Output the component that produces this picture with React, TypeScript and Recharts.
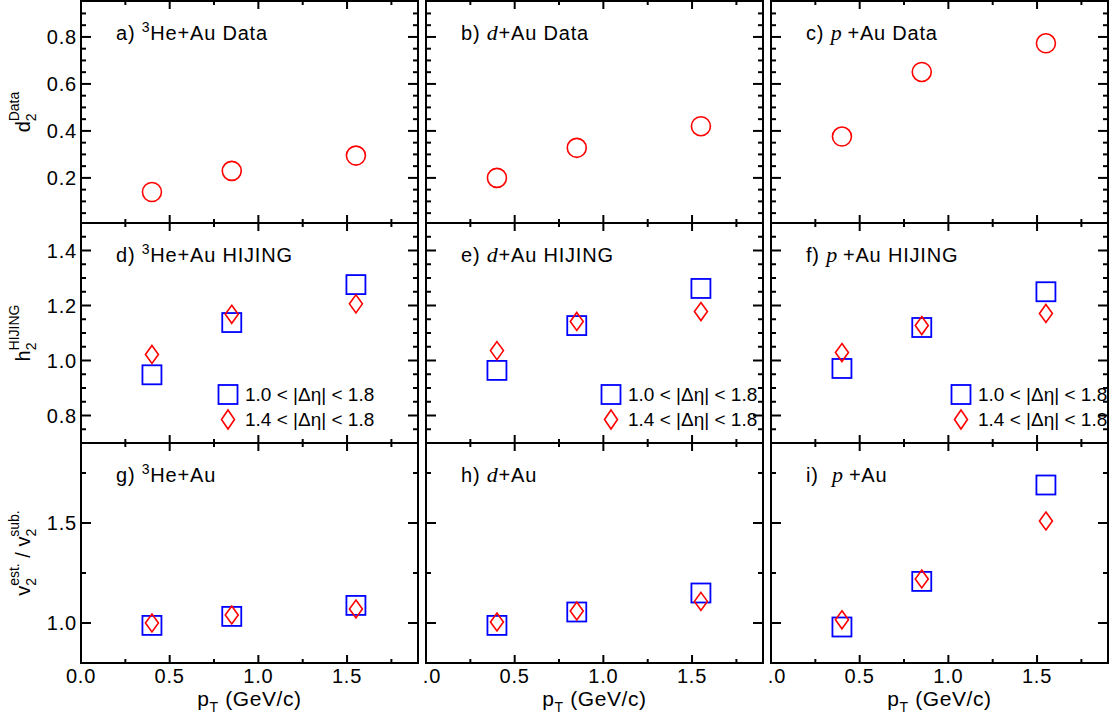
import React from 'react';
import { ScatterChart, Scatter, XAxis, YAxis, Legend, Customized } from 'recharts';

const SANS = '"Liberation Sans", Arial, Helvetica, sans-serif';
const SERIF = '"Liberation Serif", "Times New Roman", serif';
const RED = '#ff0000';
const BLUE = '#0000ff';

// ---------- data ----------
const PT = [0.4, 0.85, 1.55];

const D2_HE = [0.14, 0.23, 0.295];
const D2_D = [0.2, 0.328, 0.42];
const D2_P = [0.376, 0.651, 0.773];

const H2_HE_WIDE = [0.948, 1.138, 1.276];
const H2_HE_NARROW = [1.022, 1.168, 1.206];
const H2_D_WIDE = [0.964, 1.127, 1.262];
const H2_D_NARROW = [1.036, 1.142, 1.178];
const H2_P_WIDE = [0.971, 1.12, 1.25];
const H2_P_NARROW = [1.029, 1.127, 1.171];

const RATIO_HE_WIDE = [0.988, 1.033, 1.088];
const RATIO_HE_NARROW = [1.0, 1.04, 1.07];
const RATIO_D_WIDE = [0.988, 1.055, 1.15];
const RATIO_D_NARROW = [1.005, 1.06, 1.108];
const RATIO_P_WIDE = [0.98, 1.208, 1.69];
const RATIO_P_NARROW = [1.016, 1.22, 1.51];

const NAME_DATA = 'Data';
const NAME_WIDE = '1.0 < |Δη| < 1.8';
const NAME_NARROW = '1.4 < |Δη| < 1.8';

// ---------- axes ----------
const X_DOMAIN = [0, 1.9];
const X_MAJOR = [0, 0.5, 1.0, 1.5];
const X_MINOR = [0.25, 0.75, 1.25, 1.75];

const Y_DOMAIN_DATA = [0.008, 0.953];
const Y_MAJOR_DATA = [0.2, 0.4, 0.6, 0.8];
const Y_MINOR_DATA = [0.05, 0.1, 0.15, 0.25, 0.3, 0.35, 0.45, 0.5, 0.55, 0.65, 0.7, 0.75, 0.85, 0.9];

const Y_DOMAIN_HIJING = [0.7, 1.5];
const Y_MAJOR_HIJING = [0.8, 1.0, 1.2, 1.4];
const Y_MINOR_HIJING = [0.75, 0.85, 0.9, 0.95, 1.05, 1.1, 1.15, 1.25, 1.3, 1.35, 1.45];

const Y_DOMAIN_RATIO = [0.8, 1.9];
const Y_MAJOR_RATIO = [1.0, 1.5];
const Y_MINOR_RATIO = [1.25, 1.75];

// ---------- layout ----------
const PLOT_LEFT = [81, 426, 771];
const PLOT_W = 337;
const CELL_LEFT = [0, 422, 767];
const CELL_RIGHT = [422, 767, 1112];
const PLOT_TOP = [1, 223, 443];
const PLOT_H = [222, 220, 220];
const PAD_TOP = [1, 3, 3];
const PAD_BOTTOM = [3, 3, 58];
const LEGEND_LEFT = [217, 178, 183];
const LEGEND_TOP = 162;

const ROW_Y = [
  { domain: Y_DOMAIN_DATA, major: Y_MAJOR_DATA, minor: Y_MINOR_DATA },
  { domain: Y_DOMAIN_HIJING, major: Y_MAJOR_HIJING, minor: Y_MINOR_HIJING },
  { domain: Y_DOMAIN_RATIO, major: Y_MAJOR_RATIO, minor: Y_MINOR_RATIO },
];

const isIn = (arr: number[], v: number) => arr.some((a) => Math.abs(a - v) < 1e-6);

type Shape = 'circle' | 'square' | 'diamond';
type Series = { name: string; values: number[]; shape: Shape };

const CircleShape = (p: any) => (
  <circle cx={p.cx} cy={p.cy} r={9.5} fill="none" stroke={RED} strokeWidth={1.6} />
);
const SquareShape = (p: any) => (
  <rect x={p.cx - 9.5} y={p.cy - 9.5} width={19} height={19} fill="none" stroke={BLUE} strokeWidth={1.8} />
);
const DiamondShape = (p: any) => (
  <polygon
    points={`${p.cx},${p.cy - 9} ${p.cx + 6.5},${p.cy} ${p.cx},${p.cy + 9} ${p.cx - 6.5},${p.cy}`}
    fill="none"
    stroke={RED}
    strokeWidth={1.6}
  />
);
const SHAPES: Record<Shape, any> = { circle: CircleShape, square: SquareShape, diamond: DiamondShape };

const tickText = { fontFamily: SANS, fontSize: 20, fill: '#000', letterSpacing: 0.8 };

const makeXTick = (side: 'bottom' | 'top', showLabels: boolean) => (props: any) => {
  const { x, y, payload } = props;
  const v = payload.value;
  const major = isIn(X_MAJOR, v);
  const len = major ? 8 : 4;
  const dir = side === 'bottom' ? -1 : 1;
  return (
    <g>
      <line x1={x} x2={x} y1={y} y2={y + dir * len} stroke="#000" strokeWidth={2} />
      {showLabels && major && side === 'bottom' ? (
        <text x={x} y={y + 20} textAnchor="middle" {...tickText}>
          {v.toFixed(1)}
        </text>
      ) : null}
    </g>
  );
};

const makeYTick = (side: 'left' | 'right', major: number[], showLabels: boolean) => (props: any) => {
  const { x, y, payload } = props;
  const v = payload.value;
  const isMajor = isIn(major, v);
  const len = isMajor ? 10 : 5;
  const dir = side === 'left' ? 1 : -1;
  return (
    <g>
      <line x1={x} x2={x + dir * len} y1={y} y2={y} stroke="#000" strokeWidth={2} />
      {showLabels && isMajor && side === 'left' ? (
        <text x={x - 4} y={y} dy="0.36em" textAnchor="end" {...tickText}>
          {v.toFixed(1)}
        </text>
      ) : null}
    </g>
  );
};

const LegendSymbol = ({ shape }: { shape: Shape }) => (
  <svg width={22} height={25} style={{ display: 'block', flex: 'none' }}>
    {shape === 'square' ? (
      <rect x={1.5} y={3} width={19} height={19} fill="none" stroke={BLUE} strokeWidth={1.8} />
    ) : (
      <polygon points="11,3 17.5,12.5 11,22 4.5,12.5" fill="none" stroke={RED} strokeWidth={1.6} />
    )}
  </svg>
);

const renderLegend = (props: any) => {
  const payload = props.payload || [];
  return (
    <div style={{ fontFamily: SANS, fontSize: 19, color: '#000', whiteSpace: 'nowrap' }}>
      {payload.map((entry: any, i: number) => (
        <div key={i} style={{ display: 'flex', alignItems: 'center', height: 25 }}>
          <LegendSymbol shape={entry.value === NAME_WIDE ? 'square' : 'diamond'} />
          <span style={{ marginLeft: 6, lineHeight: '25px' }}>{entry.value}</span>
        </div>
      ))}
    </div>
  );
};

const Sup3 = () => (
  <>
    <tspan fontSize={14} dy={-8}>3</tspan>
    <tspan fontSize={20} dy={8}>He</tspan>
  </>
);
const ItalicD = () => (
  <tspan fontFamily={SERIF} fontStyle="italic" fontSize={22}>d</tspan>
);
const ItalicP = ({ dx = 0 }: { dx?: number }) => (
  <tspan fontFamily={SERIF} fontStyle="italic" fontSize={22} dx={dx}>p</tspan>
);

const PANEL_LABELS: React.ReactNode[][] = [
  [
    <>{'a) '}<Sup3 /><tspan>{'+Au Data'}</tspan></>,
    <>{'b) '}<ItalicD /><tspan>{'+Au Data'}</tspan></>,
    <>{'c) '}<ItalicP /><tspan dx={5}>{'+Au Data'}</tspan></>,
  ],
  [
    <>{'d) '}<Sup3 /><tspan>{'+Au HIJING'}</tspan></>,
    <>{'e) '}<ItalicD /><tspan>{'+Au HIJING'}</tspan></>,
    <>{'f) '}<ItalicP /><tspan dx={5}>{'+Au HIJING'}</tspan></>,
  ],
  [
    <>{'g) '}<Sup3 /><tspan>{'+Au'}</tspan></>,
    <>{'h) '}<ItalicD /><tspan>{'+Au'}</tspan></>,
    <>{'i) '}<ItalicP dx={7} /><tspan dx={5}>{'+Au'}</tspan></>,
  ],
];

const Y_TITLES: React.ReactNode[] = [
  <>
    <tspan>d</tspan>
    <tspan fontSize={14} dy={6}>2</tspan>
    <tspan fontSize={14} dx={-8} dy={-17}>Data</tspan>
  </>,
  <>
    <tspan>h</tspan>
    <tspan fontSize={14} dy={6}>2</tspan>
    <tspan fontSize={14} dx={-8} dy={-17}>HIJING</tspan>
  </>,
  <>
    <tspan>v</tspan>
    <tspan fontSize={14} dy={6}>2</tspan>
    <tspan fontSize={14} dx={-8} dy={-17}>est.</tspan>
    <tspan fontSize={20} dy={11}>{' / v'}</tspan>
    <tspan fontSize={14} dy={6}>2</tspan>
    <tspan fontSize={14} dx={-8} dy={-17}>sub.</tspan>
  </>,
];

const PanelText = ({ row, col, ml, mt }: { row: number; col: number; ml: number; mt: number }) => {
  const ph = PLOT_H[row];
  return (
    <g>
      <text x={ml + 35} y={mt + 39} fontFamily={SANS} fontSize={20} letterSpacing={0.8} fill="#000">
        {PANEL_LABELS[row][col]}
      </text>
      {col === 0 ? (
        <text
          transform={`translate(30, ${mt + ph / 2}) rotate(-90)`}
          textAnchor="middle"
          fontFamily={SANS}
          fontSize={20}
          fill="#000"
        >
          {Y_TITLES[row]}
        </text>
      ) : null}
      {row === 2 ? (
        <text
          x={ml + PLOT_W / 2 + 0}
          y={mt + ph + 43}
          textAnchor="middle"
          fontFamily={SANS}
          fontSize={21}
          letterSpacing={0.6}
          fill="#000"
        >
          p<tspan fontSize={14} dy={6}>T</tspan>
          <tspan fontSize={21} dy={-6}>{' (GeV/c)'}</tspan>
        </text>
      ) : null}
    </g>
  );
};

const PANEL_SERIES: Series[][][] = [
  [
    [{ name: NAME_DATA, values: D2_HE, shape: 'circle' }],
    [{ name: NAME_DATA, values: D2_D, shape: 'circle' }],
    [{ name: NAME_DATA, values: D2_P, shape: 'circle' }],
  ],
  [
    [{ name: NAME_WIDE, values: H2_HE_WIDE, shape: 'square' }, { name: NAME_NARROW, values: H2_HE_NARROW, shape: 'diamond' }],
    [{ name: NAME_WIDE, values: H2_D_WIDE, shape: 'square' }, { name: NAME_NARROW, values: H2_D_NARROW, shape: 'diamond' }],
    [{ name: NAME_WIDE, values: H2_P_WIDE, shape: 'square' }, { name: NAME_NARROW, values: H2_P_NARROW, shape: 'diamond' }],
  ],
  [
    [{ name: NAME_WIDE, values: RATIO_HE_WIDE, shape: 'square' }, { name: NAME_NARROW, values: RATIO_HE_NARROW, shape: 'diamond' }],
    [{ name: NAME_WIDE, values: RATIO_D_WIDE, shape: 'square' }, { name: NAME_NARROW, values: RATIO_D_NARROW, shape: 'diamond' }],
    [{ name: NAME_WIDE, values: RATIO_P_WIDE, shape: 'square' }, { name: NAME_NARROW, values: RATIO_P_NARROW, shape: 'diamond' }],
  ],
];

const axisLine = { stroke: '#000', strokeWidth: 2, strokeLinecap: 'square' as const };

const Panel = ({ row, col }: { row: number; col: number }) => {
  const left = CELL_LEFT[col];
  const width = CELL_RIGHT[col] - left;
  const ml = PLOT_LEFT[col] - left;
  const mr = CELL_RIGHT[col] - (PLOT_LEFT[col] + PLOT_W);
  const mt = PAD_TOP[row];
  const mb = PAD_BOTTOM[row];
  const top = PLOT_TOP[row] - mt;
  const height = mt + PLOT_H[row] + mb;
  const ycfg = ROW_Y[row];
  const xTicks = [...X_MAJOR, ...X_MINOR].sort((a, b) => a - b);
  const yTicks = [...ycfg.major, ...ycfg.minor].sort((a, b) => a - b);
  const series = PANEL_SERIES[row][col];

  return (
    <div style={{ position: 'absolute', left, top, width, height }}>
      <ScatterChart width={width} height={height} margin={{ top: 0, right: 0, bottom: 0, left: 0 }}>
        <XAxis
          xAxisId="b"
          orientation="bottom"
          type="number"
          dataKey="x"
          domain={X_DOMAIN}
          allowDataOverflow
          ticks={xTicks}
          interval={0}
          height={mb}
          tickLine={false}
          tickSize={0}
          tickMargin={0}
          axisLine={axisLine}
          tick={makeXTick('bottom', row === 2)}
        />
        <XAxis
          xAxisId="t"
          orientation="top"
          type="number"
          dataKey="x"
          domain={X_DOMAIN}
          allowDataOverflow
          ticks={xTicks}
          interval={0}
          height={mt}
          tickLine={false}
          tickSize={0}
          tickMargin={0}
          axisLine={axisLine}
          tick={makeXTick('top', false)}
        />
        <YAxis
          yAxisId="l"
          orientation="left"
          type="number"
          dataKey="y"
          domain={ycfg.domain}
          allowDataOverflow
          ticks={yTicks}
          interval={0}
          width={ml}
          tickLine={false}
          tickSize={0}
          tickMargin={0}
          axisLine={axisLine}
          tick={makeYTick('left', ycfg.major, col === 0)}
        />
        <YAxis
          yAxisId="r"
          orientation="right"
          type="number"
          dataKey="y"
          domain={ycfg.domain}
          allowDataOverflow
          ticks={yTicks}
          interval={0}
          width={mr}
          tickLine={false}
          tickSize={0}
          tickMargin={0}
          axisLine={axisLine}
          tick={makeYTick('right', ycfg.major, false)}
        />
        {series.map((s) => (
          <Scatter
            key={s.name}
            name={s.name}
            xAxisId="b"
            yAxisId="l"
            data={PT.map((x, i) => ({ x, y: s.values[i] }))}
            fill={s.shape === 'square' ? BLUE : RED}
            shape={SHAPES[s.shape]}
            isAnimationActive={false}
          />
        ))}
        {row === 1 ? (
          <Legend
            layout="vertical"
            align="center"
            verticalAlign="middle"
            content={renderLegend}
            wrapperStyle={{ left: LEGEND_LEFT[col], top: LEGEND_TOP, width: 'auto', height: 'auto' }}
          />
        ) : null}
        <Customized component={<PanelText row={row} col={col} ml={ml} mt={mt} />} />
      </ScatterChart>
    </div>
  );
}

export default function App() {
  const cells: { row: number; col: number }[] = [];
  for (let r = 0; r < 3; r++) for (let c = 0; c < 3; c++) cells.push({ row: r, col: c });
  return (
    <div style={{ position: 'absolute', left: 0, top: 0, width: 1112, height: 721, background: '#fff', overflow: 'hidden' }}>
      {cells.map((c) => (
        <Panel key={`${c.row}-${c.col}`} row={c.row} col={c.col} />
      ))}
    </div>
  );
}
